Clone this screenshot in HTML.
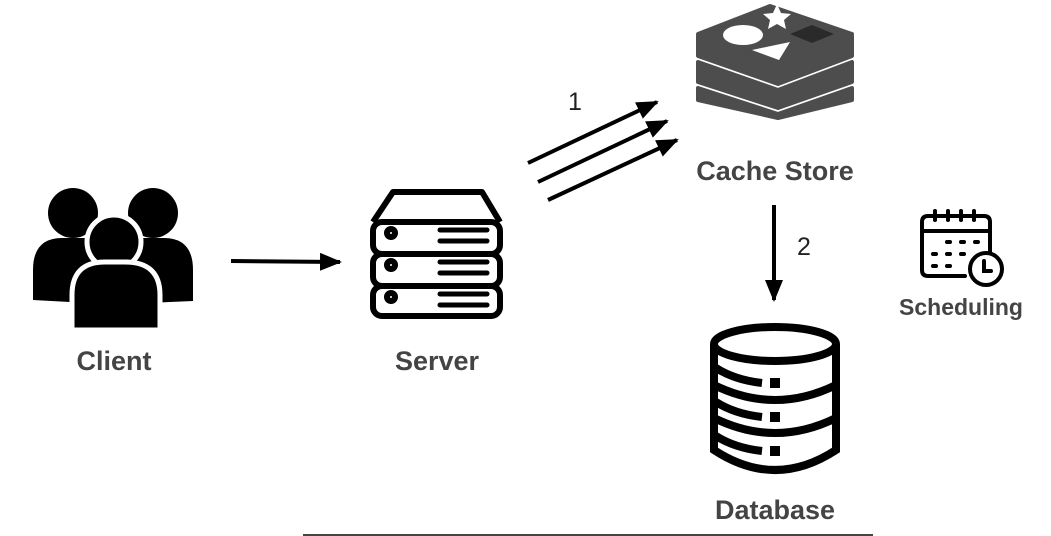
<!DOCTYPE html>
<html><head><style>
html,body{margin:0;padding:0;background:#fff;}
body{width:1051px;height:536px;overflow:hidden;position:relative;font-family:"Liberation Sans",sans-serif;}
.l{position:absolute;font-weight:bold;color:#444;transform:translateX(-50%);white-space:nowrap;}
</style></head><body>
<svg width="1051" height="536" style="position:absolute;left:0;top:0">
<defs>
<marker id="ah2" markerWidth="22" markerHeight="18" refX="20" refY="9" orient="auto" markerUnits="userSpaceOnUse"><path d="M0,0 L22,9 L0,18 Z" fill="#000"/></marker></defs>
<!-- people -->
<g fill="#000" stroke="#fff" stroke-width="5">
<circle cx="73" cy="213" r="25" stroke="none"/>
<circle cx="153" cy="213" r="25" stroke="none"/>
<path d="M33,300 L33,270 Q33,238 62,238 L100,238 Q120,238 125,260 L125,305 Z" stroke="none"/>
<path d="M193,301 L193,270 Q193,238 164,238 L126,238 Q106,238 101,260 L101,305 Z" stroke="none"/>
<circle cx="114" cy="242" r="27"/>
<path d="M72,330 L72,295 Q72,262 105,262 L125,262 Q160,262 160,295 L160,330 Z"/>
</g>
<line x1="231" y1="261" x2="340" y2="262" stroke="#000" stroke-width="4" marker-end="url(#ah2)"/>
<!-- server -->
<g fill="none" stroke="#000" stroke-width="6" stroke-linejoin="round">
<path d="M373,222 L393,192 L482,192 L500,222"/>
<rect x="373" y="222" width="127" height="32" rx="9"/>
<rect x="373" y="254" width="127" height="32" rx="9"/>
<rect x="373" y="286" width="127" height="30" rx="9"/>
<g stroke-width="5" stroke-linecap="round">
<line x1="440" y1="230" x2="487" y2="230"/><line x1="440" y1="241" x2="487" y2="241"/>
<line x1="440" y1="262" x2="487" y2="262"/><line x1="440" y1="273" x2="487" y2="273"/>
<line x1="440" y1="294" x2="487" y2="294"/><line x1="440" y1="305" x2="487" y2="305"/>
</g>
<circle cx="391" cy="233" r="4"/><circle cx="391" cy="265" r="4"/><circle cx="391" cy="297" r="4"/>
</g>
<g stroke="#000" stroke-width="4">
<line x1="528" y1="163" x2="657" y2="102" marker-end="url(#ah2)"/>
<line x1="538" y1="182" x2="667" y2="121" marker-end="url(#ah2)"/>
<line x1="548" y1="200" x2="677" y2="140" marker-end="url(#ah2)"/>
</g>
<!-- redis -->
<g fill="#4d4d4d" stroke="#4d4d4d" stroke-width="4" stroke-linejoin="round">
<path d="M698,88 L778,114 L852,88 L852,100 L778,118 L698,100 Z"/>
<path d="M698,62 L778,90 L852,62 L852,82 L778,108 L698,82 Z"/>
<path d="M698,36 L778,64 L852,36 L852,56 L778,84 L698,56 Z"/>
<path d="M698,34 L770,6 L852,34 L778,62 Z"/>
</g>
<ellipse cx="743" cy="35" rx="20" ry="10" fill="#fff"/>
<polygon points="777,4 781,13 791,14 784,20 786,29 777,24 768,29 770,20 763,14 773,13" fill="#fff"/>
<polygon points="752,50 790,42 779,60" fill="#fff"/>
<polygon points="790,34 812,25 834,34 812,43" fill="#2a2a2a"/>
<line x1="774" y1="205" x2="774" y2="300" stroke="#000" stroke-width="4" marker-end="url(#ah2)"/>
<!-- database -->
<g fill="none" stroke="#000" stroke-width="8">
<ellipse cx="775" cy="344" rx="61" ry="17"/>
<path d="M714,344 L714,450 Q775,490 836,450 L836,344"/>
<path d="M714,385 Q775,415 836,385"/>
<path d="M714,418 Q775,448 836,418"/>
<path d="M716,368 Q735,380 762,383"/>
<path d="M716,402 Q735,414 762,417"/>
<path d="M716,436 Q735,448 762,451"/>
</g>
<g fill="#000"><rect x="770" y="378" width="10" height="10"/><rect x="770" y="412" width="10" height="10"/><rect x="770" y="446" width="10" height="10"/></g>
<!-- calendar -->
<g fill="none" stroke="#000" stroke-width="4" stroke-linecap="round">
<path d="M965,276 L928,276 Q922,276 922,270 L922,222 Q922,216 928,216 L984,216 Q990,216 990,222 L990,258"/>
<line x1="922" y1="231" x2="990" y2="231"/>
<line x1="935" y1="211" x2="935" y2="220"/><line x1="948" y1="211" x2="948" y2="220"/><line x1="961" y1="211" x2="961" y2="220"/><line x1="974" y1="211" x2="974" y2="220"/>
<circle cx="986" cy="269" r="16" fill="#fff"/>
<path d="M984,261 L984,271 L991,271"/>
</g>
<g fill="#000"><rect x="945" y="240" width="7" height="4" rx="2"/><rect x="959" y="240" width="7" height="4" rx="2"/><rect x="973" y="240" width="7" height="4" rx="2"/>
<rect x="931" y="252" width="7" height="4" rx="2"/><rect x="945" y="252" width="7" height="4" rx="2"/><rect x="959" y="252" width="7" height="4" rx="2"/>
<rect x="931" y="264" width="7" height="4" rx="2"/><rect x="945" y="264" width="7" height="4" rx="2"/></g>
<line x1="303" y1="535" x2="873" y2="535" stroke="#444" stroke-width="2"/>
</svg>
<div class="l" style="left:114px;top:346px;font-size:27px">Client</div>
<div class="l" style="left:437px;top:346px;font-size:27px">Server</div>
<div class="l" style="left:775px;top:156px;font-size:27px">Cache Store</div>
<div class="l" style="left:775px;top:495px;font-size:27px">Database</div>
<div class="l" style="left:961px;top:294px;font-size:23px">Scheduling</div>
<div class="l" style="left:575px;top:88px;font-size:25px;font-weight:normal;color:#222">1</div>
<div class="l" style="left:804px;top:233px;font-size:25px;font-weight:normal;color:#222">2</div>
</body></html>
